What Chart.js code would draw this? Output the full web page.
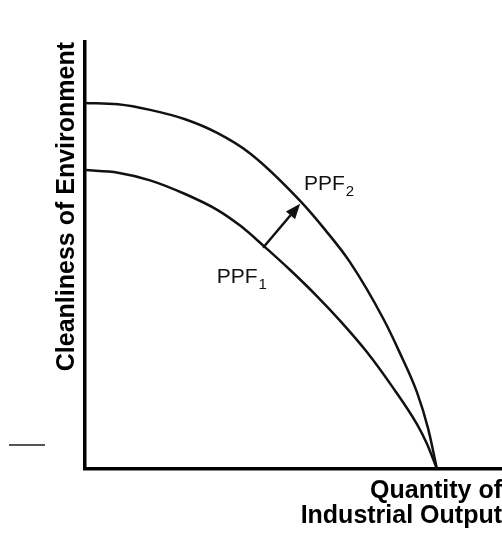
<!DOCTYPE html>
<html>
<head>
<meta charset="utf-8">
<script src="https://cdn.jsdelivr.net/npm/chart.js@4/dist/chart.umd.min.js"></script>
<style>
  body { margin: 0; background: #fff; }
  #wrap { position: relative; width: 502px; height: 533px; }
  #dash { position: absolute; left: 9px; top: 444px; width: 36px; height: 2px; background: #555; }
</style>
</head>
<body>
<div id="wrap">
  <canvas id="chart" width="502" height="533"></canvas>
  <div id="dash"></div>
</div>
<script>
// PPF curves (x = industrial output, y = cleanliness)
const ppf1X = [0, 7.9, 15.6, 24.0, 31.7, 37.2, 42.9, 49.2, 55.6, 61.2, 67.6, 73.6, 79.6, 82.0, 84.4];
const ppf1Y = [70.0, 69.4, 67.6, 64.4, 60.7, 57.0, 52.2, 46.6, 40.5, 34.7, 27.4, 19.4, 10.5, 5.9, 0];
const ppf2X = [0, 7.9, 15.6, 24.0, 31.7, 39.6, 51.6, 57.6, 63.5, 71.7, 75.5, 79.6, 82.3, 84.4];
const ppf2Y = [85.7, 85.4, 84.1, 81.9, 78.7, 73.9, 62.8, 56.0, 48.5, 34.9, 27.2, 18.0, 9.4, 0];

// shift arrow (from -> to), in data units
const arrowFrom = [42.7, 51.8];
const arrowTo = [51.6, 62.1];

// curve labels: [x, y] of the left baseline point
const curveLabels = [
  { text: "PPF", sub: "1", at: [31.6, 43.5] },
  { text: "PPF", sub: "2", at: [52.5, 65.3] }
];

const xTitle = ["Quantity of", "Industrial Output"];
const yTitle = "Cleanliness of Environment";

function toPoints(xs, ys) {
  return xs.map((x, i) => ({ x: x, y: ys[i] }));
}

// draws arrow + labels through the scales
const extras = {
  id: "extras",
  afterDatasetsDraw(chart) {
    const ctx = chart.ctx;
    const sx = chart.scales.x, sy = chart.scales.y;
    const x1 = sx.getPixelForValue(arrowFrom[0]), y1 = sy.getPixelForValue(arrowFrom[1]);
    const x2 = sx.getPixelForValue(arrowTo[0]), y2 = sy.getPixelForValue(arrowTo[1]);
    const ang = Math.atan2(y2 - y1, x2 - x1);
    const headLen = 15, headW = 6;
    const bx = x2 - headLen * Math.cos(ang), by = y2 - headLen * Math.sin(ang);

    ctx.save();
    ctx.strokeStyle = "#111";
    ctx.fillStyle = "#111";
    ctx.lineWidth = 2.5;
    ctx.beginPath();
    ctx.moveTo(x1, y1);
    ctx.lineTo(bx, by);
    ctx.stroke();
    ctx.beginPath();
    ctx.moveTo(x2, y2);
    ctx.lineTo(bx + headW * Math.sin(ang), by - headW * Math.cos(ang));
    ctx.lineTo(bx - headW * Math.sin(ang), by + headW * Math.cos(ang));
    ctx.closePath();
    ctx.fill();

    ctx.textBaseline = "alphabetic";
    ctx.textAlign = "left";
    curveLabels.forEach(l => {
      const px = sx.getPixelForValue(l.at[0]), py = sy.getPixelForValue(l.at[1]);
      ctx.font = "21px 'Liberation Sans', Arial, sans-serif";
      ctx.fillText(l.text, px, py);
      const w = ctx.measureText(l.text).width;
      ctx.font = "15px 'Liberation Sans', Arial, sans-serif";
      ctx.fillText(l.sub, px + w + 1, py + 6);
    });
    ctx.restore();
  }
};

new Chart(document.getElementById("chart"), {
  type: "scatter",
  data: {
    datasets: [
      { label: "PPF1", data: toPoints(ppf1X, ppf1Y) },
      { label: "PPF2", data: toPoints(ppf2X, ppf2Y) }
    ]
  },
  options: {
    responsive: false,
    animation: false,
    devicePixelRatio: 1,
    showLine: true,
    layout: { padding: { left: 50, top: 42, right: 0, bottom: 4 } },
    elements: {
      point: { radius: 0, hoverRadius: 0 },
      line: { borderColor: "#111", borderWidth: 2.5, cubicInterpolationMode: "monotone", fill: false }
    },
    plugins: { legend: { display: false }, tooltip: { enabled: false } },
    scales: {
      x: {
        type: "linear", min: 0, max: 100,
        ticks: { display: false },
        grid: { display: false, drawTicks: false },
        border: { display: true, color: "#000", width: 3.5 },
        title: {
          display: true, text: xTitle, align: "end", color: "#000",
          font: { family: "'Liberation Sans', Arial, sans-serif", size: 25, weight: "bold", lineHeight: 1.0 },
          padding: { top: 10, bottom: 0 }
        }
      },
      y: {
        type: "linear", min: 0, max: 100,
        ticks: { display: false },
        grid: { display: false, drawTicks: false },
        border: { display: true, color: "#000", width: 3.5 },
        title: {
          display: true, text: yTitle, align: "end", color: "#000",
          font: { family: "'Liberation Sans', Arial, sans-serif", size: 25, weight: "bold", lineHeight: 1.0 },
          padding: { top: 5, bottom: 5 }
        }
      }
    }
  },
  plugins: [extras]
});
</script>
</body>
</html>
